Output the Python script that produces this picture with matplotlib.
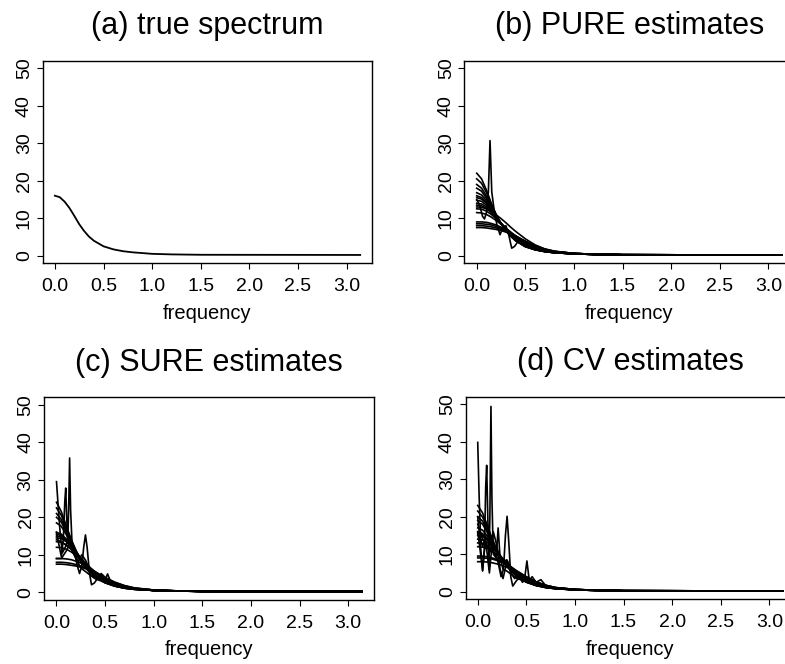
import matplotlib
matplotlib.use('Agg')
import matplotlib.pyplot as plt

plt.rcParams['font.family'] = ['Liberation Sans', 'DejaVu Sans']

# common frequency grid for the smooth curves
grid = [0, 0.05, 0.1, 0.15, 0.2, 0.25, 0.3, 0.35, 0.4, 0.5, 0.6, 0.7, 0.8, 1.0, 1.2, 1.5, 3.14]

# (a) true spectrum
true_spec = [16.0, 15.6, 14.4, 12.7, 10.6, 8.4, 6.6, 5.1, 4.0, 2.5, 1.7, 1.2, 0.9, 0.5, 0.35, 0.25, 0.2]

# (b) PURE estimates
pure_smooth = [
    [22.0, 20.5, 17.5, 14.0, 11.0, 8.6, 6.7, 5.2, 4.0, 2.4, 1.6, 1.1, 0.8, 0.5, 0.35, 0.25, 0.2],
    [20.5, 19.3, 16.8, 13.7, 10.9, 8.6, 6.8, 5.3, 4.1, 2.5, 1.6, 1.1, 0.8, 0.5, 0.35, 0.25, 0.2],
    [19.0, 18.0, 15.9, 13.2, 10.7, 8.5, 6.8, 5.3, 4.1, 2.5, 1.6, 1.1, 0.8, 0.5, 0.35, 0.25, 0.2],
    [18.0, 17.2, 15.3, 12.9, 10.6, 8.5, 6.7, 5.2, 4.0, 2.4, 1.6, 1.1, 0.8, 0.5, 0.35, 0.25, 0.2],
    [16.8, 16.2, 14.7, 12.6, 10.5, 8.5, 6.8, 5.4, 4.2, 2.6, 1.7, 1.1, 0.8, 0.5, 0.35, 0.25, 0.2],
    [16.0, 15.5, 14.2, 12.4, 10.4, 8.6, 6.9, 5.5, 4.3, 2.7, 1.7, 1.2, 0.8, 0.5, 0.35, 0.25, 0.2],
    [15.5, 15.1, 14.0, 12.3, 10.4, 8.6, 7.0, 5.6, 4.4, 2.7, 1.8, 1.2, 0.9, 0.5, 0.35, 0.25, 0.2],
    [14.8, 14.5, 13.5, 12.0, 10.3, 8.6, 7.0, 5.6, 4.4, 2.7, 1.8, 1.2, 0.9, 0.5, 0.35, 0.25, 0.2],
    [14.0, 13.8, 13.0, 11.7, 10.2, 8.6, 7.1, 5.7, 4.5, 2.8, 1.8, 1.2, 0.9, 0.5, 0.35, 0.25, 0.2],
    [13.5, 13.3, 12.6, 11.5, 10.1, 8.7, 7.3, 6.0, 4.8, 3.0, 1.9, 1.3, 0.9, 0.5, 0.35, 0.25, 0.2],
    [13.0, 12.9, 12.5, 11.8, 10.9, 9.9, 8.8, 7.6, 6.5, 4.5, 2.9, 1.8, 1.2, 0.6, 0.4, 0.25, 0.2],
    [12.5, 12.4, 11.9, 11.0, 9.9, 8.7, 7.4, 6.2, 5.1, 3.3, 2.1, 1.4, 1.0, 0.6, 0.4, 0.25, 0.2],
    [11.5, 11.4, 11.0, 10.3, 9.4, 8.4, 7.3, 6.3, 5.3, 3.6, 2.3, 1.5, 1.0, 0.6, 0.4, 0.25, 0.2],
    [9.0, 9.0, 8.9, 8.6, 8.2, 7.6, 6.9, 6.1, 5.3, 3.8, 2.5, 1.6, 1.1, 0.6, 0.4, 0.25, 0.2],
    [8.5, 8.5, 8.4, 8.2, 7.8, 7.3, 6.7, 6.0, 5.2, 3.7, 2.5, 1.6, 1.1, 0.6, 0.4, 0.25, 0.2],
    [8.0, 8.0, 7.9, 7.7, 7.4, 7.0, 6.5, 5.9, 5.2, 3.8, 2.6, 1.7, 1.1, 0.6, 0.4, 0.25, 0.2],
    [7.5, 7.5, 7.4, 7.2, 7.0, 6.7, 6.3, 5.8, 5.2, 3.9, 2.7, 1.8, 1.2, 0.6, 0.4, 0.25, 0.2],
]
pure_spike_f = [0, 0.03, 0.06, 0.08, 0.1, 0.12, 0.137, 0.155, 0.18, 0.21, 0.24, 0.27, 0.3, 0.33, 0.36, 0.39, 0.43, 0.47, 0.55, 0.65, 0.8, 1.0, 1.5, 3.14]
pure_spike_v = [15.0, 13.5, 10.5, 9.8, 11.5, 17.0, 30.7, 17.0, 12.0, 8.0, 5.6, 7.5, 8.0, 5.5, 2.0, 2.5, 4.0, 3.6, 2.4, 1.5, 0.9, 0.5, 0.25, 0.2]

# (c) SURE estimates
sure_smooth = [
    [24.0, 21.5, 17.8, 14.2, 11.2, 8.8, 6.9, 5.4, 4.2, 2.6, 1.7, 1.1, 0.8, 0.5, 0.35, 0.25, 0.2],
    [22.5, 20.5, 17.2, 13.9, 11.0, 8.7, 6.9, 5.4, 4.2, 2.6, 1.7, 1.1, 0.8, 0.5, 0.35, 0.25, 0.2],
    [21.0, 19.4, 16.5, 13.5, 10.8, 8.6, 6.8, 5.3, 4.1, 2.5, 1.6, 1.1, 0.8, 0.5, 0.35, 0.25, 0.2],
    [20.0, 18.7, 16.1, 13.3, 10.8, 8.7, 6.9, 5.4, 4.2, 2.6, 1.7, 1.1, 0.8, 0.5, 0.35, 0.25, 0.2],
    [18.5, 17.6, 15.4, 12.9, 10.6, 8.6, 6.9, 5.5, 4.3, 2.7, 1.7, 1.2, 0.8, 0.5, 0.35, 0.25, 0.2],
    [16.0, 15.5, 14.2, 12.4, 10.5, 8.7, 7.1, 5.7, 4.5, 2.8, 1.8, 1.2, 0.9, 0.5, 0.35, 0.25, 0.2],
    [15.5, 15.1, 14.0, 12.3, 10.5, 8.8, 7.2, 5.8, 4.6, 2.9, 1.8, 1.2, 0.9, 0.5, 0.35, 0.25, 0.2],
    [15.0, 14.7, 13.7, 12.2, 10.5, 8.9, 7.4, 6.0, 4.8, 3.0, 1.9, 1.3, 0.9, 0.5, 0.35, 0.25, 0.2],
    [14.5, 14.3, 13.5, 12.2, 10.7, 9.2, 7.8, 6.5, 5.3, 3.4, 2.1, 1.4, 1.0, 0.6, 0.4, 0.25, 0.2],
    [13.5, 13.3, 12.7, 11.6, 10.3, 8.9, 7.5, 6.2, 5.0, 3.2, 2.0, 1.3, 0.9, 0.5, 0.35, 0.25, 0.2],
    [12.0, 11.9, 11.5, 10.8, 9.8, 8.7, 7.5, 6.4, 5.3, 3.5, 2.2, 1.4, 1.0, 0.6, 0.4, 0.25, 0.2],
    [9.0, 9.0, 8.9, 8.7, 8.3, 7.8, 7.1, 6.3, 5.5, 3.9, 2.6, 1.7, 1.1, 0.6, 0.4, 0.25, 0.2],
    [8.0, 8.0, 7.9, 7.7, 7.4, 7.0, 6.5, 5.9, 5.2, 3.8, 2.6, 1.7, 1.1, 0.6, 0.4, 0.25, 0.2],
    [7.5, 7.5, 7.4, 7.2, 7.0, 6.7, 6.3, 5.8, 5.2, 3.9, 2.7, 1.8, 1.2, 0.6, 0.4, 0.25, 0.2],
]
sure_w1_f = [0, 0.02, 0.04, 0.06, 0.09, 0.12, 0.16, 0.2, 0.25, 0.3, 0.35, 0.4, 0.5, 0.6, 0.7, 0.8, 1.0, 1.5, 3.14]
sure_w1_v = [29.5, 22.0, 15.0, 10.5, 12.0, 14.0, 12.5, 10.5, 8.0, 6.5, 5.0, 4.0, 2.8, 1.8, 1.2, 0.9, 0.5, 0.25, 0.2]
sure_w2_f = [0, 0.03, 0.05, 0.07, 0.085, 0.095, 0.105, 0.115, 0.125, 0.135, 0.145, 0.16, 0.19, 0.22, 0.25, 0.3, 0.35, 0.4, 0.5, 0.6, 0.8, 1.0, 1.5, 3.14]
sure_w2_v = [16.0, 12.0, 9.5, 14.0, 24.0, 27.8, 20.0, 13.0, 22.0, 35.8, 22.0, 13.0, 11.0, 8.0, 6.5, 5.5, 4.5, 3.6, 2.6, 1.7, 0.9, 0.5, 0.25, 0.2]
sure_w3_f = [0, 0.05, 0.1, 0.15, 0.19, 0.215, 0.237, 0.26, 0.28, 0.298, 0.315, 0.34, 0.36, 0.39, 0.43, 0.47, 0.5, 0.525, 0.55, 0.6, 0.7, 0.8, 1.0, 1.5, 3.14]
sure_w3_v = [14.0, 13.5, 12.5, 11.5, 10.0, 7.0, 5.0, 7.0, 12.0, 15.3, 12.0, 5.0, 2.0, 2.5, 4.0, 3.8, 3.2, 4.9, 3.3, 2.4, 1.4, 1.0, 0.5, 0.25, 0.2]
sure_w4_f = [0, 0.05, 0.1, 0.14, 0.18, 0.22, 0.26, 0.3, 0.34, 0.38, 0.42, 0.46, 0.5, 0.6, 0.7, 0.8, 1.0, 1.5, 3.14]
sure_w4_v = [9.0, 9.0, 11.0, 13.0, 10.0, 8.0, 10.0, 8.5, 6.0, 4.0, 3.5, 5.0, 4.0, 2.2, 1.4, 0.9, 0.5, 0.25, 0.2]

# (d) CV estimates
cv_smooth = [
    [23.0, 21.0, 17.6, 14.1, 11.1, 8.7, 6.8, 5.3, 4.1, 2.5, 1.6, 1.1, 0.8, 0.5, 0.35, 0.25, 0.2],
    [21.5, 19.9, 16.9, 13.7, 10.9, 8.7, 6.9, 5.4, 4.2, 2.6, 1.7, 1.1, 0.8, 0.5, 0.35, 0.25, 0.2],
    [20.0, 18.8, 16.2, 13.4, 10.8, 8.7, 6.9, 5.4, 4.2, 2.6, 1.7, 1.1, 0.8, 0.5, 0.35, 0.25, 0.2],
    [19.0, 18.0, 15.7, 13.1, 10.7, 8.6, 6.9, 5.5, 4.3, 2.7, 1.7, 1.2, 0.8, 0.5, 0.35, 0.25, 0.2],
    [17.0, 16.4, 14.8, 12.7, 10.6, 8.7, 7.0, 5.6, 4.4, 2.7, 1.8, 1.2, 0.9, 0.5, 0.35, 0.25, 0.2],
    [16.0, 15.5, 14.2, 12.4, 10.5, 8.7, 7.1, 5.7, 4.5, 2.8, 1.8, 1.2, 0.9, 0.5, 0.35, 0.25, 0.2],
    [15.5, 15.1, 14.0, 12.4, 10.7, 9.0, 7.5, 6.1, 4.9, 3.1, 2.0, 1.3, 0.9, 0.5, 0.35, 0.25, 0.2],
    [15.0, 14.7, 13.7, 12.2, 10.5, 8.9, 7.4, 6.0, 4.8, 3.0, 1.9, 1.3, 0.9, 0.5, 0.35, 0.25, 0.2],
    [14.0, 13.8, 13.1, 11.9, 10.5, 9.0, 7.6, 6.3, 5.1, 3.3, 2.1, 1.4, 1.0, 0.6, 0.4, 0.25, 0.2],
    [13.0, 12.9, 12.4, 11.5, 10.3, 9.0, 7.7, 6.4, 5.3, 3.4, 2.2, 1.4, 1.0, 0.6, 0.4, 0.25, 0.2],
    [12.0, 11.9, 11.5, 10.8, 9.8, 8.7, 7.5, 6.4, 5.3, 3.5, 2.2, 1.4, 1.0, 0.6, 0.4, 0.25, 0.2],
    [9.5, 9.5, 9.3, 9.0, 8.6, 8.0, 7.3, 6.5, 5.6, 4.0, 2.6, 1.7, 1.1, 0.6, 0.4, 0.25, 0.2],
    [9.0, 9.0, 8.9, 8.7, 8.3, 7.8, 7.1, 6.3, 5.5, 3.9, 2.6, 1.7, 1.1, 0.6, 0.4, 0.25, 0.2],
    [8.0, 8.0, 7.9, 7.7, 7.4, 7.0, 6.5, 5.9, 5.2, 3.8, 2.6, 1.7, 1.1, 0.6, 0.4, 0.25, 0.2],
]
cv_w1_f = [0, 0.015, 0.03, 0.05, 0.07, 0.1, 0.14, 0.18, 0.22, 0.26, 0.3, 0.35, 0.4, 0.5, 0.6, 0.7, 0.8, 1.0, 1.5, 3.14]
cv_w1_v = [39.8, 25.0, 14.0, 12.0, 13.5, 12.0, 10.5, 12.0, 9.0, 8.0, 8.5, 6.0, 4.0, 2.8, 1.8, 1.2, 0.9, 0.5, 0.25, 0.2]
cv_w2_f = [0, 0.03, 0.05, 0.07, 0.082, 0.092, 0.102, 0.115, 0.125, 0.136, 0.146, 0.16, 0.19, 0.21, 0.23, 0.26, 0.3, 0.35, 0.4, 0.5, 0.6, 0.8, 1.0, 1.5, 3.14]
cv_w2_v = [16.0, 10.0, 5.7, 12.0, 28.0, 33.7, 22.0, 6.0, 20.0, 49.4, 25.0, 10.0, 9.0, 17.0, 9.0, 6.0, 5.5, 4.5, 3.6, 2.6, 1.7, 0.9, 0.5, 0.25, 0.2]
cv_w3_f = [0, 0.05, 0.1, 0.15, 0.2, 0.24, 0.265, 0.285, 0.302, 0.32, 0.34, 0.36, 0.4, 0.44, 0.48, 0.506, 0.53, 0.56, 0.6, 0.65, 0.7, 0.8, 1.0, 1.5, 3.14]
cv_w3_v = [18.0, 14.0, 12.0, 11.0, 9.0, 4.0, 6.0, 15.0, 20.1, 13.0, 4.0, 1.5, 3.0, 4.0, 3.0, 8.2, 3.0, 4.0, 2.5, 3.2, 1.6, 1.0, 0.5, 0.25, 0.2]
cv_w4_f = [0, 0.02, 0.05, 0.08, 0.12, 0.16, 0.2, 0.23, 0.26, 0.3, 0.34, 0.38, 0.42, 0.46, 0.5, 0.55, 0.6, 0.7, 0.8, 1.0, 1.5, 3.14]
cv_w4_v = [20.0, 15.0, 5.5, 14.0, 5.0, 16.0, 12.0, 6.0, 3.5, 8.0, 5.0, 3.5, 4.5, 2.5, 4.0, 2.5, 2.6, 1.4, 1.0, 0.5, 0.25, 0.2]

xticks = [0.0, 0.5, 1.0, 1.5, 2.0, 2.5, 3.0]
yticks = [0, 10, 20, 30, 40, 50]


def setupPanel(ax, title):
    ax.set_xlim(-0.1257, 3.2657)
    ax.set_ylim(-2, 52)
    ax.set_xticks(xticks)
    ax.set_xticklabels([f'{t:.1f}' for t in xticks])
    ax.set_yticks(yticks)
    ax.set_yticklabels([str(t) for t in yticks], rotation=90, va='center')
    ax.tick_params(direction='out', length=4, width=0.8, labelsize=14)
    ax.tick_params(axis='x', pad=7)
    ax.tick_params(axis='y', pad=3)
    for s in ax.spines.values():
        s.set_linewidth(1.0)
    ax.set_xlabel('frequency', fontsize=14.5, labelpad=6)
    ax.set_title(title, fontsize=22, pad=19)


def plotCurves(ax, smooth, wiggly):
    for vals in smooth:
        ax.plot(grid, vals, color='black', lw=1.2)
    for f, v in wiggly:
        ax.plot(f, v, color='black', lw=1.2)


fig = plt.figure(figsize=(7.85, 6.64), dpi=100)

axA = fig.add_axes([0.0544, 0.6036, 0.42, 0.305])
axA.plot(grid, true_spec, color='black', lw=1.3)
setupPanel(axA, '(a) true spectrum')

axB = fig.add_axes([0.5917, 0.6036, 0.42, 0.305])
plotCurves(axB, pure_smooth, [(pure_spike_f, pure_spike_v)])
setupPanel(axB, '(b) PURE estimates')

axC = fig.add_axes([0.0564, 0.0967, 0.42, 0.305])
plotCurves(axC, sure_smooth, [(sure_w1_f, sure_w1_v), (sure_w2_f, sure_w2_v),
                              (sure_w3_f, sure_w3_v), (sure_w4_f, sure_w4_v)])
setupPanel(axC, '(c) SURE estimates')

axD = fig.add_axes([0.593, 0.0976, 0.42, 0.305])
plotCurves(axD, cv_smooth, [(cv_w1_f, cv_w1_v), (cv_w2_f, cv_w2_v),
                            (cv_w3_f, cv_w3_v), (cv_w4_f, cv_w4_v)])
setupPanel(axD, '(d) CV estimates')

plt.savefig('out.png', dpi=100)
